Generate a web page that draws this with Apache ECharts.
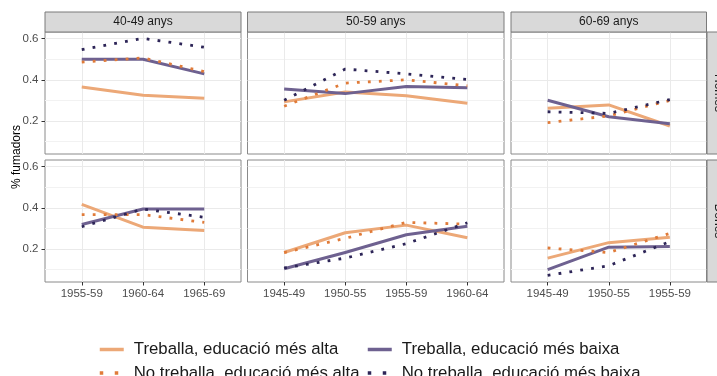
<!DOCTYPE html>
<html><head><meta charset="utf-8">
<script src="https://cdn.jsdelivr.net/npm/echarts@6/dist/echarts.min.js"></script>
<style>html,body{margin:0;padding:0;background:#fff}#c{width:717px;height:376px}</style>
</head><body><div id="c"></div><script>
// ---------------- DATA ----------------
const panelAges = ['40-49 anys', '50-59 anys', '60-69 anys'];
const rowSexes = ['Homes', 'Dones'];
const catsCol1 = ['1955-59', '1960-64', '1965-69'];
const catsCol2 = ['1945-49', '1950-55', '1955-59', '1960-64'];
const catsCol3 = ['1945-49', '1950-55', '1955-59'];
const yTickLabels = [0.2, 0.4, 0.6];
const yGridValues = [0.1, 0.2, 0.3, 0.4, 0.5, 0.6];
const seriesNames = ['Treballa, educació més alta', 'Treballa, educació més baixa',
                     'No treballa, educació més alta', 'No treballa, educació més baixa'];
const yAxisTitle = '% fumadors';

// Homes
const homes40_treballaAlta    = [0.365, 0.325, 0.310];
const homes40_treballaBaixa   = [0.500, 0.500, 0.429];
const homes40_noTreballaAlta  = [0.486, 0.506, 0.440];
const homes40_noTreballaBaixa = [0.546, 0.601, 0.558];
const homes50_treballaAlta    = [0.293, 0.341, 0.323, 0.286];
const homes50_treballaBaixa   = [0.355, 0.333, 0.367, 0.361];
const homes50_noTreballaAlta  = [0.272, 0.384, 0.400, 0.371];
const homes50_noTreballaBaixa = [0.301, 0.452, 0.429, 0.401];
const homes60_treballaAlta    = [0.262, 0.278, 0.176];
const homes60_treballaBaixa   = [0.301, 0.221, 0.187];
const homes60_noTreballaAlta  = [0.192, 0.225, 0.300];
const homes60_noTreballaBaixa = [0.245, 0.237, 0.304];
// Dones
const dones40_treballaAlta    = [0.417, 0.306, 0.290];
const dones40_treballaBaixa   = [0.319, 0.394, 0.394];
const dones40_noTreballaAlta  = [0.367, 0.367, 0.329];
const dones40_noTreballaBaixa = [0.308, 0.394, 0.354];
const dones50_treballaAlta    = [0.183, 0.279, 0.316, 0.255];
const dones50_treballaBaixa   = [0.104, 0.183, 0.269, 0.310];
const dones50_noTreballaAlta  = [0.183, 0.252, 0.329, 0.321];
const dones50_noTreballaBaixa = [0.108, 0.156, 0.226, 0.327];
const dones60_treballaAlta    = [0.156, 0.231, 0.257];
const dones60_treballaBaixa   = [0.100, 0.209, 0.212];
const dones60_noTreballaAlta  = [0.205, 0.183, 0.276];
const dones60_noTreballaBaixa = [0.072, 0.119, 0.236];

const yMin = 0.04, yMax = 0.632;

// ---------------- BUILD ----------------
const cats = [catsCol1, catsCol2, catsCol3];
const panelData = [
  [
    [homes40_treballaAlta, homes40_treballaBaixa, homes40_noTreballaAlta, homes40_noTreballaBaixa],
    [homes50_treballaAlta, homes50_treballaBaixa, homes50_noTreballaAlta, homes50_noTreballaBaixa],
    [homes60_treballaAlta, homes60_treballaBaixa, homes60_noTreballaAlta, homes60_noTreballaBaixa]
  ],
  [
    [dones40_treballaAlta, dones40_treballaBaixa, dones40_noTreballaAlta, dones40_noTreballaBaixa],
    [dones50_treballaAlta, dones50_treballaBaixa, dones50_noTreballaAlta, dones50_noTreballaBaixa],
    [dones60_treballaAlta, dones60_treballaBaixa, dones60_noTreballaAlta, dones60_noTreballaBaixa]
  ]
];

const FONT = '"Liberation Sans", Arial, Helvetica, sans-serif';
const styles = [
  {color: '#ECA877', width: 3, type: 'solid'},
  {color: '#6E6190', width: 3, type: 'solid'},
  {color: '#E07B39', width: 2.8, type: [2.8, 8.2]},
  {color: '#2D2557', width: 2.8, type: [2.8, 8.2]}
];
const legendLine = [
  {width: 3.5, type: 'solid'},
  {width: 3.5, type: 'solid'},
  {width: 3.5, type: [3.5, 11.5]},
  {width: 3.5, type: [3.5, 11.5]}
];
const colLayout = [{left: 45, width: 196}, {left: 247.5, width: 256.5}, {left: 511, width: 195.5}];
const rowLayout = [{top: 32, height: 122}, {top: 160, height: 122}];

const grid = [], xAxis = [], yAxis = [], series = [], graphic = [];

for (let r = 0; r < 2; r++) {
  for (let c = 0; c < 3; c++) {
    const cl = colLayout[c], rl = rowLayout[r];
    const n = cats[c].length;
    const inset = cl.width * 0.6 / (n - 1 + 1.2);
    // outer (frame) grid
    const gOuter = grid.length;
    grid.push({left: cl.left, top: rl.top, width: cl.width, height: rl.height,
               show: true, borderColor: '#8A8A8A', borderWidth: 1, backgroundColor: '#fff', containLabel: false});
    xAxis.push({type: 'value', gridIndex: gOuter, min: 0, max: 1, show: false});
    yAxis.push({type: 'value', gridIndex: gOuter, min: yMin, max: yMax, position: 'left',
      axisLine: {show: false},
      axisTick: {show: false, customValues: yGridValues},
      axisLabel: {show: false},
      splitLine: {show: true, lineStyle: {color: ['#F2F2F2', '#EAEAEA'], width: 1}}});
    if (c === 0) {
      yAxis.push({type: 'value', gridIndex: gOuter, min: yMin, max: yMax, position: 'left', offset: 0,
        axisLine: {show: false},
        axisTick: {show: true, length: 3.5, customValues: yTickLabels, lineStyle: {color: '#333'}},
        axisLabel: {show: true, customValues: yTickLabels, margin: 6.5, color: '#4D4D4D',
                    fontSize: 11.5, fontFamily: FONT, formatter: v => v.toFixed(1)},
        splitLine: {show: false}});
    }
    // inner (data) grid
    const gInner = grid.length;
    grid.push({left: cl.left + inset, top: rl.top, width: cl.width - 2 * inset, height: rl.height, show: false});
    const xi = xAxis.length;
    xAxis.push({type: 'category', gridIndex: gInner, data: cats[c], boundaryGap: false,
      axisLine: {show: false},
      axisTick: {show: r === 1, length: 3.5, lineStyle: {color: '#333'}},
      axisLabel: {show: r === 1, margin: 6, color: '#4D4D4D', fontSize: 11.5, fontFamily: FONT},
      splitLine: {show: true, lineStyle: {color: '#EAEAEA', width: 1}}});
    const yi = yAxis.length;
    yAxis.push({type: 'value', gridIndex: gInner, min: yMin, max: yMax, show: false, splitLine: {show: false}});
    for (let s = 0; s < 4; s++) {
      const st = styles[s];
      series.push({type: 'line', name: seriesNames[s], xAxisIndex: xi, yAxisIndex: yi,
        data: panelData[r][c][s], symbol: 'circle', showSymbol: false, z: 3 + s,
        lineStyle: {color: st.color, width: st.width, type: st.type, cap: 'butt', join: 'round'},
        itemStyle: {color: st.color}});
    }
  }
}

// top strips
for (let c = 0; c < 3; c++) {
  const cl = colLayout[c];
  graphic.push({type: 'rect', shape: {x: cl.left, y: 12, width: cl.width, height: 20},
    style: {fill: '#D9D9D9', stroke: '#7A7A7A', lineWidth: 1}, z: 10});
  graphic.push({type: 'text', x: cl.left + cl.width / 2, y: 22,
    style: {text: panelAges[c], fill: '#1A1A1A', font: '12px ' + FONT, align: 'center', verticalAlign: 'middle'}, z: 11});
}
// right strips
for (let r = 0; r < 2; r++) {
  const rl = rowLayout[r];
  graphic.push({type: 'rect', shape: {x: 707, y: rl.top, width: 22, height: rl.height},
    style: {fill: '#D9D9D9', stroke: '#7A7A7A', lineWidth: 1}, z: 10});
  graphic.push({type: 'text', x: 718, y: rl.top + rl.height / 2, rotation: -Math.PI / 2,
    style: {text: rowSexes[r], fill: '#1A1A1A', font: '12px ' + FONT, align: 'center', verticalAlign: 'middle'}, z: 11});
}
// y axis title
graphic.push({type: 'text', x: 17, y: 157, rotation: Math.PI / 2,
  style: {text: yAxisTitle, fill: '#000', font: '12px ' + FONT, align: 'center', verticalAlign: 'middle'}, z: 11});

const legendCommon = {orient: 'vertical', itemWidth: 24, itemHeight: 14, itemGap: 6.6, padding: 0,
  height: 80,
  itemStyle: {opacity: 0},
  textStyle: {fontSize: 16.8, fontFamily: FONT, color: '#1A1A1A', padding: [0, 0, 0, 5], lineHeight: 14},
  selectedMode: false};
const legendItem = i => ({name: seriesNames[i], lineStyle: legendLine[i]});

const option = {
  animation: false,
  backgroundColor: '#fff',
  grid, xAxis, yAxis, series, graphic,
  legend: [
    Object.assign({}, legendCommon, {left: 98, top: 341, data: [legendItem(0), legendItem(2)]}),
    Object.assign({}, legendCommon, {left: 366, top: 341, data: [legendItem(1), legendItem(3)]})
  ]
};
const chart = echarts.init(document.getElementById('c'), null, {renderer: 'canvas'});
chart.setOption(option);
</script></body></html>
